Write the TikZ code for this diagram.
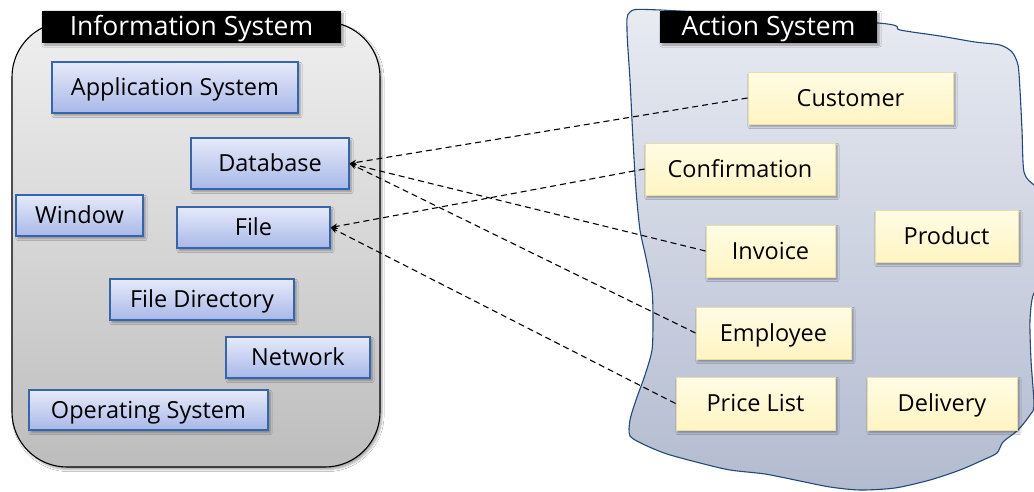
\documentclass[tikz,border=0pt]{standalone}
\usepackage{fontspec}
\setmainfont{Open Sans}
\usetikzlibrary{shadows.blur,arrows.meta}

\definecolor{infotop}{HTML}{EFEFEF}
\definecolor{infobot}{HTML}{BDBDBD}
\definecolor{acttop}{HTML}{E8EBF2}
\definecolor{actbot}{HTML}{B3BBD0}
\definecolor{actedge}{HTML}{1F4A7A}
\definecolor{bluetop}{HTML}{E6EAF9}
\definecolor{bluebot}{HTML}{A8B8E8}
\definecolor{blueedge}{HTML}{3565AE}
\definecolor{yeltop}{HTML}{FFFCE4}
\definecolor{yelbot}{HTML}{FFF4C2}
\definecolor{yeledge}{HTML}{E8DDAA}

\tikzset{
  softshadow/.style={blur shadow={shadow xshift=2pt,shadow yshift=-2.5pt,
      shadow blur steps=5,shadow opacity=35}},
  blueitem/.style={draw=blueedge,line width=1.1pt,top color=bluetop,
      bottom color=bluebot,softshadow,inner sep=0pt,
      text height=16.8pt,text depth=0pt,
      font=\fontsize{23.5}{27}\selectfont},
  yelitem/.style={draw=yeledge,line width=1pt,top color=yeltop,
      bottom color=yelbot,softshadow,inner sep=0pt,
      text height=16.8pt,text depth=0pt,
      font=\fontsize{23.5}{27}\selectfont},
  titlebar/.style={fill=black,text=white,inner sep=0pt,softshadow,
      text height=18.9pt,text depth=0pt,
      font=\fontsize{26.5}{30}\selectfont},
  link/.style={dashed,dash pattern=on 6pt off 4pt,line width=1.1pt,
      -{Stealth[length=7pt,width=5.5pt]}},
}

\begin{document}
\begin{tikzpicture}[x=1pt,y=-1pt]
\clip (0,0) rectangle (1034,491);
\fill[white] (0,0) rectangle (1034,491);

% information system container
\path[draw=black,line width=1.1pt,rounded corners=55pt,top color=infotop,
  bottom color=infobot,softshadow] (12,22) rectangle (380,467);
\node[titlebar,minimum width=299pt,minimum height=32pt] (infotitle)
  at (191.5,26.5) {Information System};

% action system container
\path[draw=actedge,line width=1.1pt,top color=acttop,bottom color=actbot]
  plot[smooth cycle,tension=0.45] coordinates {
  (630,12) (660,10) (878,23) (900,30) (940,36) (975,42) (1000,45)
  (1012,52) (1018,65) (1020,90) (1022,130) (1024,172) (1034,185)
  (1050,195) (1050,285) (1034,293) (1030,320) (1031,360) (1034,405)
  (1030,415) (1018,430) (1003,442) (997,453) (983,460) (960,470)
  (930,480) (895,488) (860,490) (830,487) (800,481) (765,474)
  (730,470) (700,463) (667,454) (645,445) (630,436) (630,420)
  (636,400) (645,375) (652,350) (653,320) (652,290) (646,258)
  (640,230) (636,190) (633,140) (630,80) (627,30)};
\node[titlebar,minimum width=217pt,minimum height=32pt] (acttitle)
  at (768.5,26.5) {Action System};

% information system elements
\node[blueitem,minimum width=246pt,minimum height=51pt] (app) at (175,87.5) {Application System};
\node[blueitem,minimum width=158pt,minimum height=51pt] (db) at (270,163.5) {Database};
\node[blueitem,minimum width=127pt,minimum height=41pt] (win) at (79.5,215.5) {Window};
\node[blueitem,minimum width=153pt,minimum height=41pt] (file) at (253.5,227.5) {File};
\node[blueitem,minimum width=184pt,minimum height=41pt] (dir) at (202,299.5) {File Directory};
\node[blueitem,minimum width=144pt,minimum height=41pt] (net) at (298,357.5) {Network};
\node[blueitem,minimum width=239pt,minimum height=40pt] (os) at (148.5,410) {Operating System};

% action system elements
\node[yelitem,minimum width=205pt,minimum height=52pt] (cust) at (850.5,98) {Customer};
\node[yelitem,minimum width=190pt,minimum height=52pt] (conf) at (740,169) {Confirmation};
\node[yelitem,minimum width=129pt,minimum height=52pt] (inv) at (770.5,251) {Invoice};
\node[yelitem,minimum width=143pt,minimum height=52pt] (prod) at (946.5,236) {Product};
\node[yelitem,minimum width=155pt,minimum height=52pt] (emp) at (773.5,333) {Employee};
\node[yelitem,minimum width=159pt,minimum height=53pt] (price) at (755.5,403.5) {Price List};
\node[yelitem,minimum width=150pt,minimum height=53pt] (deliv) at (942,403.5) {Delivery};

% links between the two systems
\draw[link] (cust.west) -- (db.east);
\draw[link] (inv.west) -- (db.east);
\draw[link] (emp.west) -- (db.east);
\draw[link] (conf.west) -- (file.east);
\draw[link] (price.west) -- (file.east);
\end{tikzpicture}
\end{document}
